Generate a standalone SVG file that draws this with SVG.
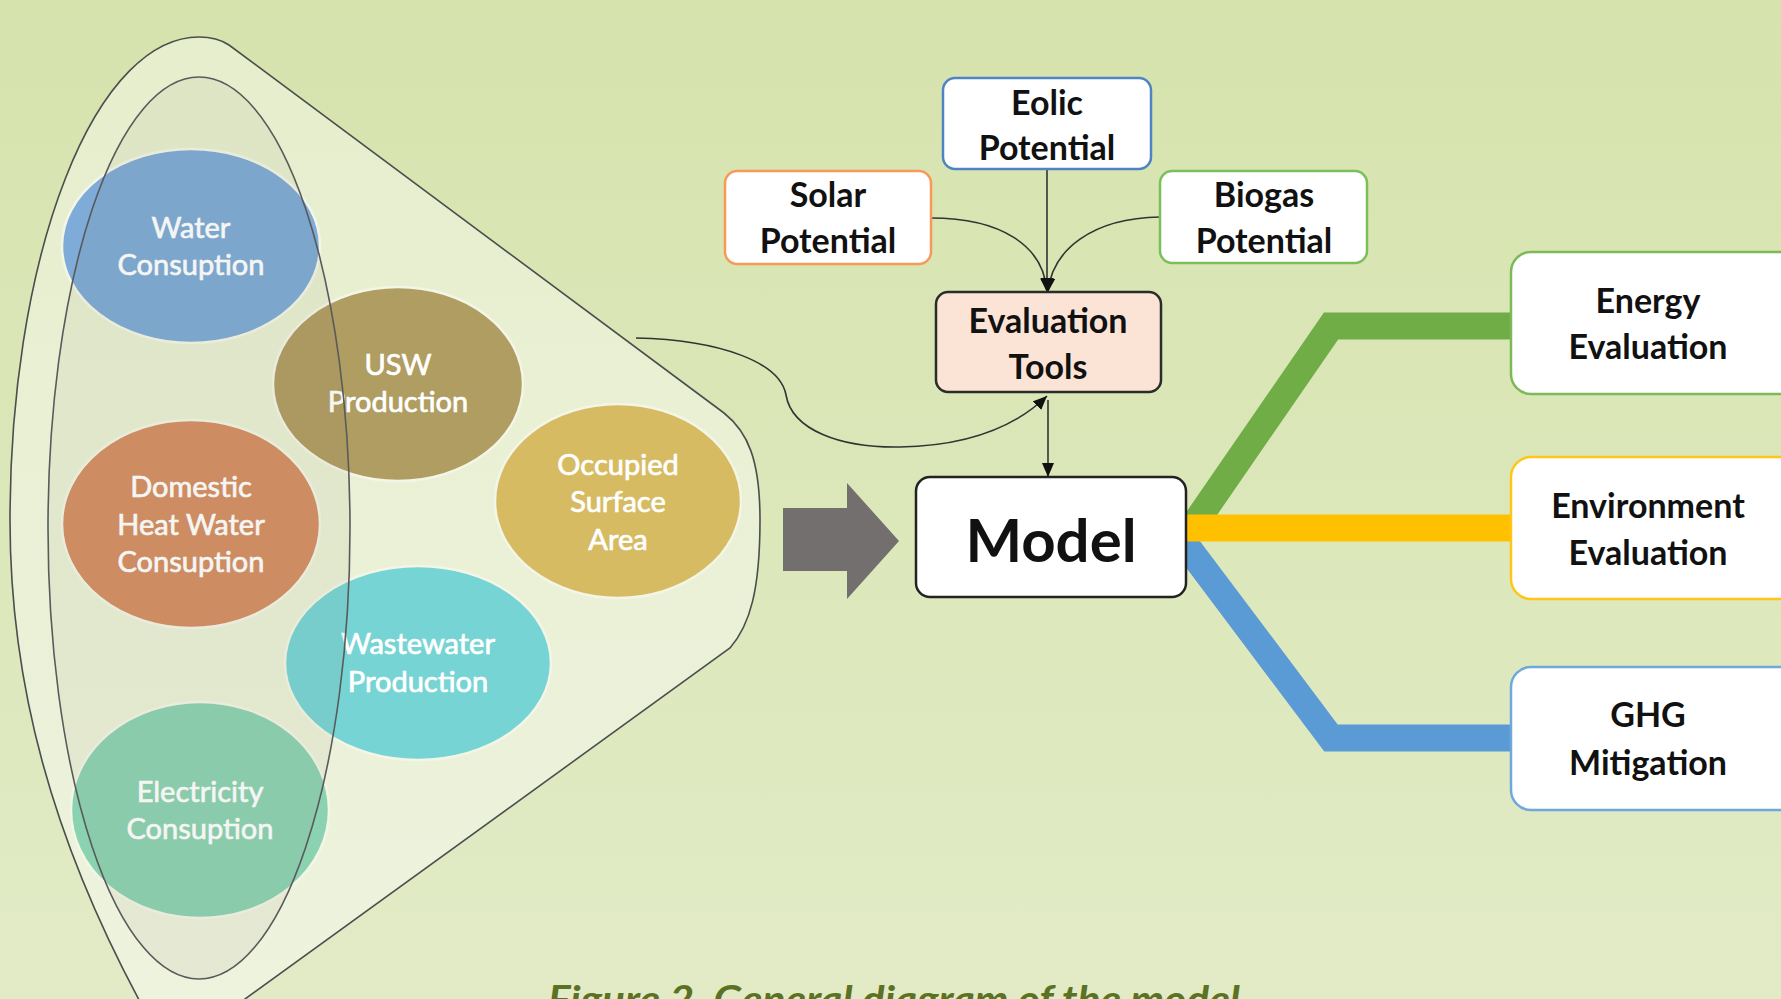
<svg xmlns="http://www.w3.org/2000/svg" width="1781" height="999" viewBox="0 0 1781 999">
  <defs>
    <linearGradient id="bg" x1="0" y1="0" x2="0" y2="1">
      <stop offset="0" stop-color="#d6e3ad"/>
      <stop offset="1" stop-color="#e2ebc6"/>
    </linearGradient>
    <linearGradient id="funnelFill" x1="0" y1="0" x2="0" y2="1">
      <stop offset="0" stop-color="#e6eecd"/>
      <stop offset="1" stop-color="#eef3de"/>
    </linearGradient>
    <marker id="arrow" viewBox="0 0 14 12" refX="14" refY="6" markerWidth="14" markerHeight="12" markerUnits="userSpaceOnUse" orient="auto">
      <path d="M0,0 L14,6 L0,12 Z" fill="#111"/>
    </marker>
    <style>
      .bubble { stroke: #f3f6e6; stroke-width: 2.5; }
      .btxt { font-family: Lato, "Open Sans", sans-serif; font-size: 29px; fill: #ffffff; stroke: #ffffff; stroke-width: 0.7; text-anchor: middle; }
      .box { fill: #ffffff; stroke-width: 2.5; }
      .ttxt { font-family: Lato, "Open Sans", sans-serif; font-weight: bold; font-size: 34px; fill: #111111; text-anchor: middle; }
      .thin { fill: none; stroke: #333333; stroke-width: 1.6; }
      .band { fill: none; stroke-width: 27; stroke-linejoin: miter; }
    </style>
  </defs>

  <rect x="0" y="0" width="1781" height="999" fill="url(#bg)"/>

  <!-- funnel holding the input variables -->
  <g id="funnel">
    <path d="M 199 37 C 210 37, 220 39, 229 45 L 724 413 C 748 432, 760 460, 760 520 C 760 590, 750 625, 730 648 L 216 1020 L 150 1020 C 50 840, 10 680, 10 520 A 189 483 0 0 1 199 37 Z" fill="url(#funnelFill)" stroke="#4d4d4d" stroke-width="1.6"/>
  </g>

  <!-- input bubbles -->
  <g id="water">
    <ellipse class="bubble" cx="191" cy="246" rx="129" ry="97" fill="#7eabd7"/>
    <text class="btxt" x="191" y="238">Water</text>
    <text class="btxt" x="191" y="275">Consuption</text>
  </g>
  <g id="usw">
    <ellipse class="bubble" cx="398" cy="384" rx="125" ry="97" fill="#b09d62"/>
    <text class="btxt" x="398" y="375">USW</text>
    <text class="btxt" x="398" y="412">Production</text>
  </g>
  <g id="occupied">
    <ellipse class="bubble" cx="618" cy="501" rx="123" ry="97" fill="#d7bb63"/>
    <text class="btxt" x="618" y="475">Occupied</text>
    <text class="btxt" x="618" y="512">Surface</text>
    <text class="btxt" x="618" y="550">Area</text>
  </g>
  <g id="domestic">
    <ellipse class="bubble" cx="191" cy="524" rx="129" ry="104" fill="#d48f63"/>
    <text class="btxt" x="191" y="497">Domestic</text>
    <text class="btxt" x="191" y="535">Heat Water</text>
    <text class="btxt" x="191" y="572">Consuption</text>
  </g>
  <g id="wastewater">
    <ellipse class="bubble" cx="418" cy="663" rx="133" ry="97" fill="#77d4d4"/>
    <text class="btxt" x="418" y="654">Wastewater</text>
    <text class="btxt" x="418" y="692">Production</text>
  </g>
  <g id="electricity">
    <ellipse class="bubble" cx="200" cy="810" rx="129" ry="108" fill="#8bd2b1"/>
    <text class="btxt" x="200" y="802">Electricity</text>
    <text class="btxt" x="200" y="839">Consuption</text>
  </g>

  <!-- inner grouping ellipse -->
  <g id="inner-group">
    <ellipse cx="199" cy="528" rx="151" ry="451" fill="#6e6e50" fill-opacity="0.07" stroke="#5a5a5a" stroke-width="1.6"/>
  </g>

  <!-- connectors -->
  <g id="connectors">
    <path class="thin" d="M 1047 169 L 1047 292" marker-end="url(#arrow)"/>
    <path class="thin" d="M 931 218 C 1000 218, 1044 245, 1047 292" marker-end="url(#arrow)"/>
    <path class="thin" d="M 1160 217 C 1092 218, 1052 250, 1048 292" marker-end="url(#arrow)"/>
    <path class="thin" d="M 1048 400 L 1048 477" marker-end="url(#arrow)"/>
    <path class="thin" d="M 636 338 C 720 340, 780 362, 786 395 C 792 430, 840 448, 900 447 C 960 446, 1012 430, 1047 396" marker-end="url(#arrow)"/>
    <polygon points="783,508 847,508 847,483 899,541 847,599 847,571 783,571" fill="#736f6f"/>
    <path class="band" d="M 1180 545 L 1331 326 L 1515 326" stroke="#70ad47"/>
    <path class="band" d="M 1180 537 L 1331 738 L 1515 738" stroke="#5b9bd5"/>
    <path class="band" d="M 1180 528 L 1515 528" stroke="#ffc000"/>
  </g>

  <!-- potentials and tools -->
  <g id="eolic">
    <rect class="box" x="943" y="78" width="208" height="91" rx="12" stroke="#4f83c4"/>
    <text class="ttxt" x="1047" y="115">Eolic</text>
    <text class="ttxt" x="1047" y="160">Potential</text>
  </g>
  <g id="solar">
    <rect class="box" x="725" y="171" width="206" height="93" rx="12" stroke="#f79a58"/>
    <text class="ttxt" x="828" y="207">Solar</text>
    <text class="ttxt" x="828" y="253">Potential</text>
  </g>
  <g id="biogas">
    <rect class="box" x="1160" y="171" width="207" height="92" rx="12" stroke="#7cbf5a"/>
    <text class="ttxt" x="1264" y="207">Biogas</text>
    <text class="ttxt" x="1264" y="253">Potential</text>
  </g>
  <g id="evaluation-tools">
    <rect x="936" y="292" width="225" height="100" rx="12" fill="#fbe4d5" stroke="#2b2b2b" stroke-width="2.5"/>
    <text class="ttxt" x="1048" y="333">Evaluation</text>
    <text class="ttxt" x="1048" y="379">Tools</text>
  </g>
  <g id="model">
    <rect x="916" y="477" width="270" height="120" rx="14" fill="#ffffff" stroke="#222222" stroke-width="2.5"/>
    <text class="ttxt" x="1051" y="562" style="font-size:60px">Model</text>
  </g>

  <!-- outputs -->
  <g id="energy">
    <rect class="box" x="1511" y="252" width="300" height="142" rx="20" stroke="#7cb957"/>
    <text class="ttxt" x="1648" y="313">Energy</text>
    <text class="ttxt" x="1648" y="359">Evaluation</text>
  </g>
  <g id="environment">
    <rect class="box" x="1511" y="457" width="300" height="142" rx="20" stroke="#ffc619"/>
    <text class="ttxt" x="1648" y="518">Environment</text>
    <text class="ttxt" x="1648" y="565">Evaluation</text>
  </g>
  <g id="ghg">
    <rect class="box" x="1511" y="667" width="300" height="143" rx="20" stroke="#6fa8dc"/>
    <text class="ttxt" x="1648" y="727">GHG</text>
    <text class="ttxt" x="1648" y="775">Mitigation</text>
  </g>

  <text x="548" y="1013" textLength="692" lengthAdjust="spacingAndGlyphs" font-family="Lato, 'Open Sans', sans-serif" font-weight="bold" font-style="italic" font-size="38" fill="#5b7223">Figure 2. General diagram of the model</text>
</svg>
